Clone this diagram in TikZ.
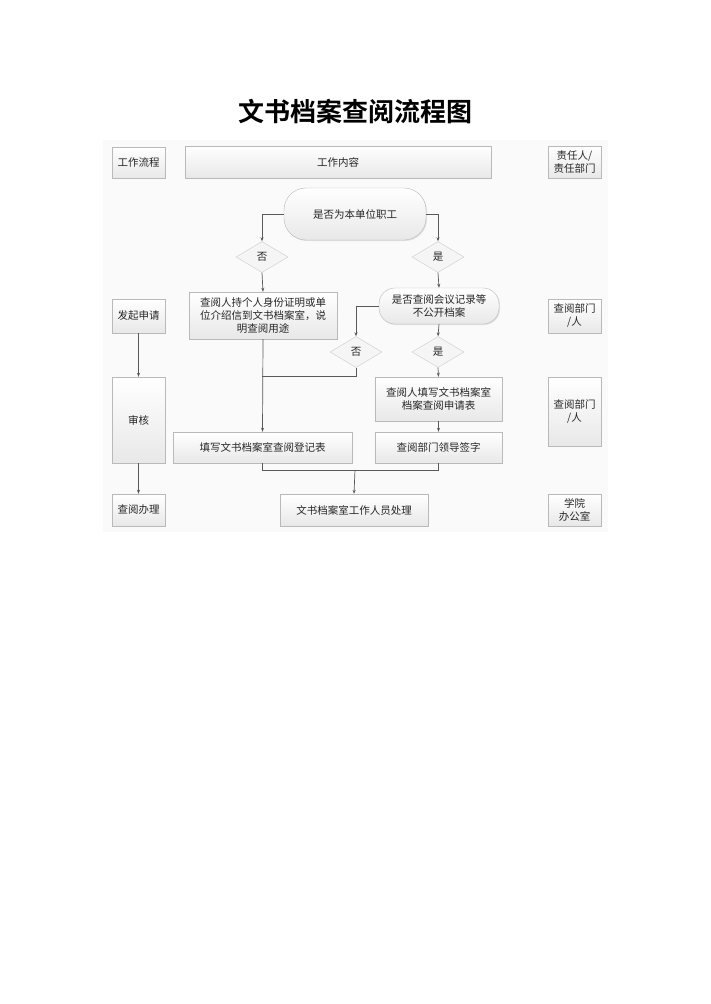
\documentclass[tikz,border=0pt]{standalone}
\usepackage{fontspec}
\setmainfont{Noto Sans CJK SC}
\newfontfamily\cjkbold{Noto Sans CJK SC Bold}
\usetikzlibrary{shapes.geometric,arrows.meta,shadows}
\begin{document}
\begin{tikzpicture}[x=1pt,y=-1pt,
  bx/.style={draw=gray!55,top color=white,bottom color=gray!18,inner sep=0pt,font=\fontsize{10.5}{13}\selectfont,align=center,text=black!85,drop shadow={opacity=0.2,shadow xshift=1pt,shadow yshift=-1pt}},
  rnd/.style={bx,rounded corners=16pt},
  dia/.style={draw=gray!40,fill=gray!8,diamond,aspect=1.6,inner sep=1pt,minimum width=52pt,minimum height=31pt,font=\fontsize{10.5}{13}\selectfont,text=black!85},
  ar/.style={draw=gray!70!black,line width=0.7pt,-{Stealth[length=4pt,width=3pt]}},
  ln/.style={draw=gray!70!black,line width=0.7pt}]
\useasboundingbox (0,0) rectangle (710,1004);
\fill[gray!4] (103,140) rectangle (608,532);
\node[font=\cjkbold\fontsize{26}{30}\selectfont] (title) at (355,111) {文书档案查阅流程图};
\node[bx,minimum width=53pt,minimum height=31pt] (h1) at (138.5,162.5) {工作流程};
\node[bx,minimum width=306pt,minimum height=32pt] (h2) at (338,162) {工作内容};
\node[bx,minimum width=53pt,minimum height=32pt] (h3) at (574.5,162) {责任人/\\责任部门};
\node[rnd,rounded corners=22pt,minimum width=142pt,minimum height=52pt] (q1) at (355,214) {是否为本单位职工};
\node[dia] (n1) at (262,257) {否};
\node[dia] (y1) at (438,257) {是};
\node[bx,minimum width=148pt,minimum height=47pt] (b1) at (263,315.5) {查阅人持个人身份证明或单\\位介绍信到文书档案室，说\\明查阅用途};
\node[rnd,minimum width=120pt,minimum height=36pt] (q2) at (439,306) {是否查阅会议记录等\\不公开档案};
\node[bx,minimum width=53pt,minimum height=34pt] (l1) at (138.5,316) {发起申请};
\node[bx,minimum width=53pt,minimum height=34pt] (r1) at (574.5,316) {查阅部门\\/人};
\node[dia] (n2) at (356,352) {否};
\node[dia] (y2) at (438,352) {是};
\node[bx,minimum width=127pt,minimum height=44pt] (b2) at (438.5,399) {查阅人填写文书档案室\\档案查阅申请表};
\node[bx,minimum width=179pt,minimum height=31pt] (b3) at (262.5,447.5) {填写文书档案室查阅登记表};
\node[bx,minimum width=127pt,minimum height=31pt] (b4) at (438.5,447.5) {查阅部门领导签字};
\node[bx,minimum width=148pt,minimum height=32pt] (b5) at (354,510) {文书档案室工作人员处理};
\node[bx,minimum width=53pt,minimum height=86pt] (l2) at (138.5,420) {审核};
\node[bx,minimum width=53pt,minimum height=69pt] (r2) at (574.5,411.5) {查阅部门\\/人};
\node[bx,minimum width=53pt,minimum height=32pt] (l3) at (138.5,510) {查阅办理};
\node[bx,minimum width=53pt,minimum height=32pt] (r3) at (574.5,510) {学院\\办公室};
\coordinate (m1) at (262,376);
\coordinate (m2) at (355,470);
\draw[ar] (q1.west) -| (n1.north);
\draw[ar] (q1.east) -| (y1.north);
\draw[ar] (n1.south) -- (b1.north);
\draw[ar] (y1.south) -- (q2.north);
\draw[ar] (q2.west) -| (n2.north);
\draw[ar] (q2.south) -- (y2.north);
\draw[ar] (y2.south) -- (b2.north);
\draw[ar] (b2.south) -- (b4.north);
\draw[ar] (b1.south) -- (b3.north);
\draw[ln] (n2.south) |- (m1);
\draw[ln] (b3.south) |- (m2);
\draw[ln] (b4.south) |- (m2);
\draw[ar] (m2) -- (b5.north);
\draw[ar] (l1) -- (l2);
\draw[ar] (l2) -- (l3);
\end{tikzpicture}
\end{document}
